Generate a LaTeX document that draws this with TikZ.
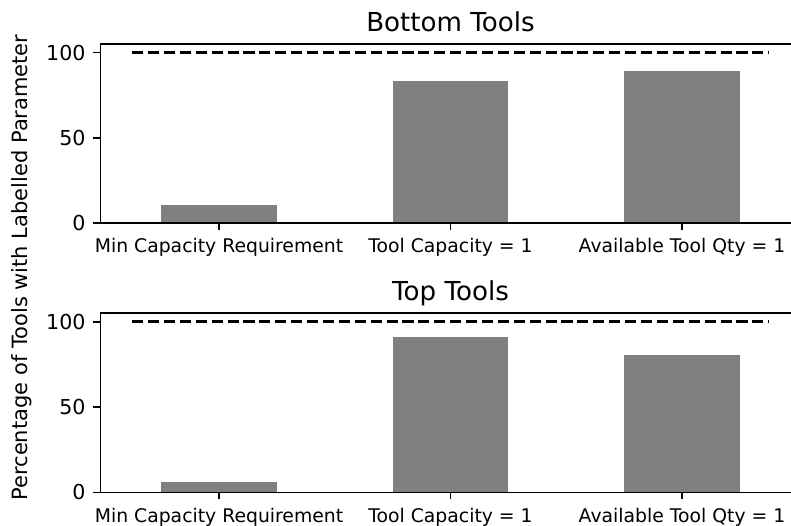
\documentclass[tikz,border=0pt]{standalone}
\usepackage{fontspec}
\setmainfont{DejaVu Sans}
\usetikzlibrary{positioning}

\begin{document}
\begin{tikzpicture}[
    x=1pt, y=1pt,
    spine/.style={line width=1.6pt},
    tickmark/.style={line width=1.6pt},
    bar/.style={fill=gray},
    limit/.style={line width=3pt, dash pattern=on 11.1pt off 4.8pt},
    ticklabel/.style={font=\fontsize{18.8}{22}\selectfont, inner sep=0pt},
    valuelabel/.style={font=\fontsize{20.6}{24}\selectfont, inner sep=0pt, anchor=east},
    plottitle/.style={font=\fontsize{26.1}{31}\selectfont, inner sep=0pt, anchor=base},
    axislabel/.style={font=\fontsize{21}{25}\selectfont, inner sep=0pt, anchor=base, rotate=90}
]
    \useasboundingbox (0,0) rectangle (791,525);

    % Upper panel: Bottom Tools
    \begin{scope}[shift={(219pt,301.7pt)}, x=231.5pt, y=1.706pt]
        \fill[bar] (-0.25,0) rectangle (0.25,10.7);
        \fill[bar] (0.75,0) rectangle (1.25,83.4);
        \fill[bar] (1.75,0) rectangle (2.25,89.3);
        \draw[limit] (-0.375,100) -- (2.375,100);
        \draw[spine] (-0.5125,0) rectangle (2.5125,105);
        \node[plottitle] (titleB) at (1,105) [yshift=12.3pt] {Bottom Tools};
        \foreach \v in {0,50,100}
            \draw[tickmark] (-0.5125,\v) -- ++(-7pt,0)
                node[valuelabel, xshift=-7pt] (yB-\v) {\v};
        \foreach \i/\txt in {0/Min Capacity Requirement, 1/Tool Capacity = 1, 2/Available Tool Qty = 1}
            \draw[tickmark] (\i,0) -- ++(0,-7pt)
                node[ticklabel, anchor=base, yshift=-22.7pt] (xB-\i) {\txt};
    \end{scope}

    % Lower panel: Top Tools
    \begin{scope}[shift={(219pt,32.7pt)}, x=231.5pt, y=1.706pt]
        \fill[bar] (-0.25,0) rectangle (0.25,6.0);
        \fill[bar] (0.75,0) rectangle (1.25,91.0);
        \fill[bar] (1.75,0) rectangle (2.25,80.5);
        \draw[limit] (-0.375,100) -- (2.375,100);
        \draw[spine] (-0.5125,0) rectangle (2.5125,105);
        \node[plottitle] (titleT) at (1,105) [yshift=12.3pt] {Top Tools};
        \foreach \v in {0,50,100}
            \draw[tickmark] (-0.5125,\v) -- ++(-7pt,0)
                node[valuelabel, xshift=-7pt] (yT-\v) {\v};
        \foreach \i/\txt in {0/Min Capacity Requirement, 1/Tool Capacity = 1, 2/Available Tool Qty = 1}
            \draw[tickmark] (\i,0) -- ++(0,-7pt)
                node[ticklabel, anchor=base, yshift=-22.7pt] (xT-\i) {\txt};
    \end{scope}

    % Shared y label
    \node[axislabel] (ylab) at (27,257.5) {Percentage of Tools with Labelled Parameter};
\end{tikzpicture}
\end{document}
